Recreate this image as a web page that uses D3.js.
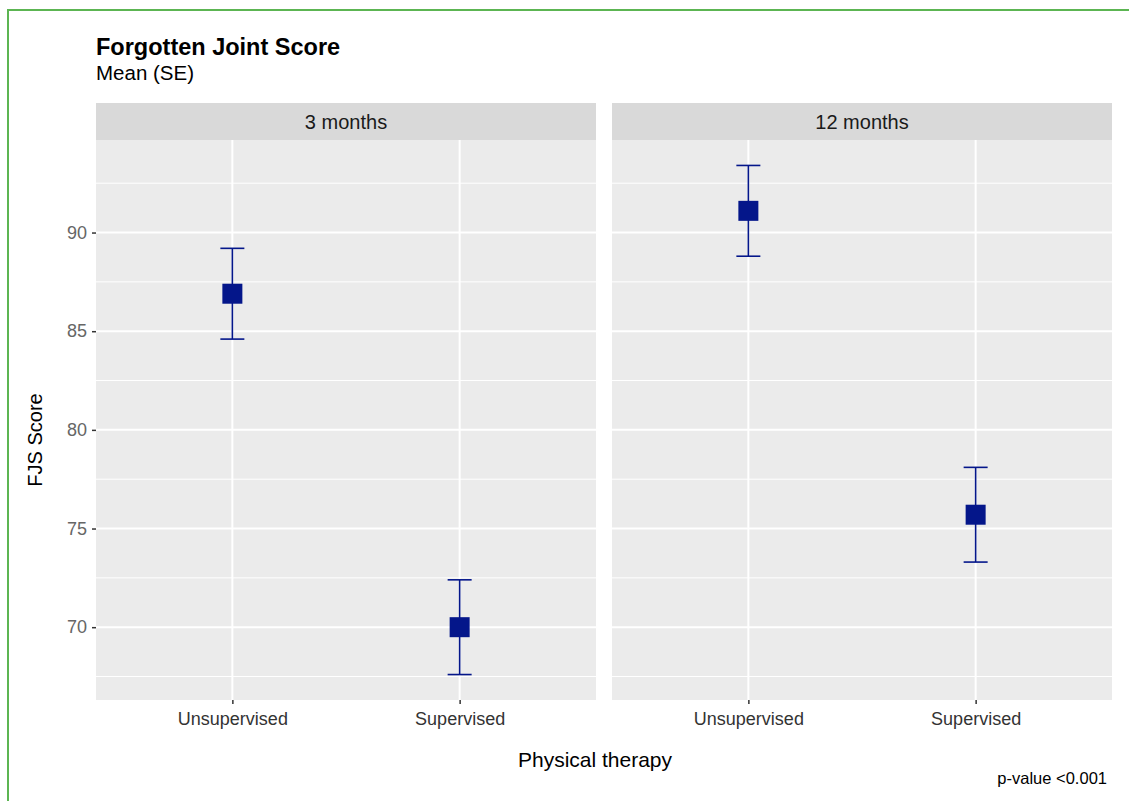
<!DOCTYPE html>
<html>
<head>
<meta charset="utf-8">
<script src="https://cdn.jsdelivr.net/npm/d3@7"></script>
<style>
  html, body { margin: 0; padding: 0; background: #ffffff; }
  svg { display: block; }
  text { font-family: "Liberation Sans", Arial, Helvetica, sans-serif; }
</style>
</head>
<body>
<svg id="chart" width="1129" height="801"></svg>
<script>
// ---- data ----
const panels = ["3 months", "12 months"];
const groups = ["Unsupervised", "Supervised"];
const means3 = [86.9, 70.0];
const se3 = [2.3, 2.4];
const means12 = [91.1, 75.7];
const se12 = [2.3, 2.4];
const yTicks = [70, 75, 80, 85, 90];
const yMinorTicks = [67.5, 72.5, 77.5, 82.5, 87.5, 92.5];
const titleText = "Forgotten Joint Score";
const subtitleText = "Mean (SE)";
const xTitle = "Physical therapy";
const yTitle = "FJS Score";
const captionText = "p-value <0.001";

const panelData = [
  { name: panels[0], means: means3, se: se3 },
  { name: panels[1], means: means12, se: se12 }
];

// ---- layout ----
const svg = d3.select("#chart");
const W = 1129, H = 801;
const plotTop = 140, plotBottom = 700;
const stripTop = 103;
const panelX = [96, 612];
const panelW = 500;
const navy = "#04168a";
const fontF = '"Liberation Sans", Arial, Helvetica, sans-serif';

// border (left & top visible)
svg.append("rect").attr("x", 8).attr("y", 10).attr("width", W + 20).attr("height", H + 20)
  .attr("fill", "none").attr("stroke", "#5cb552").attr("stroke-width", 2);

// y scale with 5% expansion
const allLo = panelData.flatMap(p => p.means.map((m, i) => m - p.se[i]));
const allHi = panelData.flatMap(p => p.means.map((m, i) => m + p.se[i]));
const lo = d3.min(allLo), hi = d3.max(allHi), span = hi - lo;
const y = d3.scaleLinear().domain([lo - 0.05 * span, hi + 0.05 * span]).range([plotBottom, plotTop]);

panelData.forEach((p, pi) => {
  const x0 = panelX[pi];
  const x = d3.scalePoint().domain(groups).range([0, panelW]).padding(0.6);
  const g = svg.append("g").attr("transform", `translate(${x0},0)`);

  // strip
  g.append("rect").attr("x", 0).attr("y", stripTop).attr("width", panelW).attr("height", plotTop - stripTop)
    .attr("fill", "#d9d9d9");
  g.append("text").attr("x", panelW / 2).attr("y", 129).attr("text-anchor", "middle")
    .attr("font-size", 20).attr("fill", "#1a1a1a").text(p.name);

  // panel bg
  g.append("rect").attr("x", 0).attr("y", plotTop).attr("width", panelW).attr("height", plotBottom - plotTop)
    .attr("fill", "#ebebeb");

  // minor grid
  g.selectAll(".minor").data(yMinorTicks).join("line")
    .attr("x1", 0).attr("x2", panelW).attr("y1", d => y(d)).attr("y2", d => y(d))
    .attr("stroke", "#ffffff").attr("stroke-width", 1);
  // major grid
  g.selectAll(".major").data(yTicks).join("line")
    .attr("x1", 0).attr("x2", panelW).attr("y1", d => y(d)).attr("y2", d => y(d))
    .attr("stroke", "#ffffff").attr("stroke-width", 2);
  g.selectAll(".vmajor").data(groups).join("line")
    .attr("x1", d => x(d)).attr("x2", d => x(d)).attr("y1", plotTop).attr("y2", plotBottom)
    .attr("stroke", "#ffffff").attr("stroke-width", 2);

  // x axis
  const xAxis = d3.axisBottom(x).tickSize(4).tickPadding(5);
  const ax = g.append("g").attr("transform", `translate(0,${plotBottom})`).call(xAxis);
  ax.select(".domain").remove();
  ax.selectAll(".tick line").attr("stroke", "#333333").attr("stroke-width", 1.5);
  ax.selectAll(".tick text").attr("font-size", 18).attr("fill", "#333333").attr("font-family", fontF)
    .attr("dy", "0.9em");

  // error bars
  const rows = groups.map((gname, i) => ({ g: gname, m: p.means[i], s: p.se[i] }));
  const capW = 12;
  g.selectAll(".eb").data(rows).join("line")
    .attr("x1", d => x(d.g)).attr("x2", d => x(d.g))
    .attr("y1", d => y(d.m + d.s)).attr("y2", d => y(d.m - d.s))
    .attr("stroke", navy).attr("stroke-width", 1.6);
  g.selectAll(".capT").data(rows).join("line")
    .attr("x1", d => x(d.g) - capW).attr("x2", d => x(d.g) + capW)
    .attr("y1", d => y(d.m + d.s)).attr("y2", d => y(d.m + d.s))
    .attr("stroke", navy).attr("stroke-width", 1.6);
  g.selectAll(".capB").data(rows).join("line")
    .attr("x1", d => x(d.g) - capW).attr("x2", d => x(d.g) + capW)
    .attr("y1", d => y(d.m - d.s)).attr("y2", d => y(d.m - d.s))
    .attr("stroke", navy).attr("stroke-width", 1.6);
  const sq = 20;
  g.selectAll(".pt").data(rows).join("rect")
    .attr("x", d => x(d.g) - sq / 2).attr("y", d => y(d.m) - sq / 2)
    .attr("width", sq).attr("height", sq).attr("fill", navy);
});

// y axis (left panel only)
const yAxis = d3.axisLeft(y).tickValues(yTicks).tickSize(4).tickPadding(5);
const ay = svg.append("g").attr("transform", `translate(${panelX[0]},0)`).call(yAxis);
ay.select(".domain").remove();
ay.selectAll(".tick line").attr("stroke", "#333333").attr("stroke-width", 1.5);
ay.selectAll(".tick text").attr("font-size", 18).attr("fill", "#666666").attr("font-family", fontF);

// titles
svg.append("text").attr("x", 96).attr("y", 55).attr("font-size", 23.5).attr("font-weight", "bold")
  .attr("fill", "#000").text(titleText);
svg.append("text").attr("x", 96).attr("y", 80).attr("font-size", 20.5)
  .attr("fill", "#000").text(subtitleText);
svg.append("text").attr("x", 595).attr("y", 767).attr("text-anchor", "middle").attr("font-size", 21)
  .attr("fill", "#000").text(xTitle);
svg.append("text").attr("transform", "translate(42,440) rotate(-90)").attr("text-anchor", "middle")
  .attr("font-size", 20).attr("fill", "#000").text(yTitle);
svg.append("text").attr("x", 1107).attr("y", 784).attr("text-anchor", "end").attr("font-size", 16.5)
  .attr("fill", "#000").text(captionText);
</script>
</body>
</html>
